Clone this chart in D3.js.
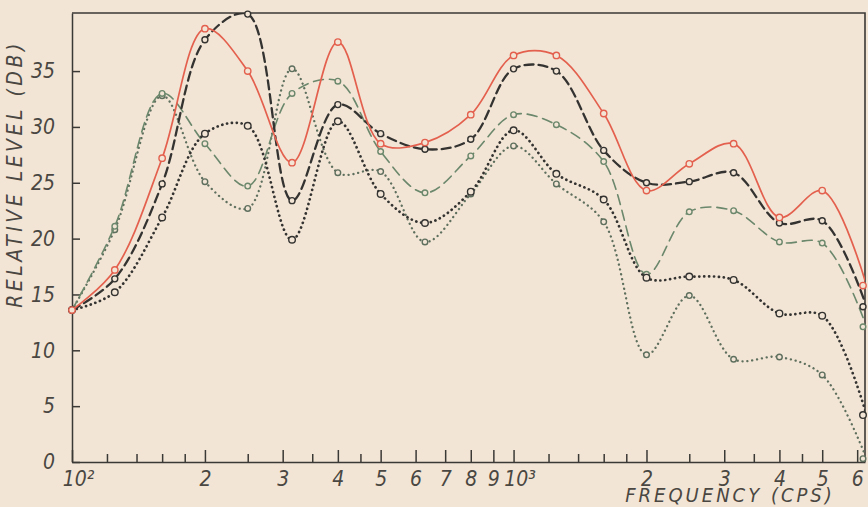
<html>
<head>
	<style>
		body {
			margin: 0;
			background: #f2e5d5;
		}
		svg text {
			font-family: "Liberation Sans Narrow", "DejaVu Sans Condensed", sans-serif;
			font-style: italic;
			fill: #4a4742;
		}
	</style>
	<script src="https://d3js.org/d3.v7.min.js"></script>
</head>
<body>
	<script>
		// 1/3-octave centre frequencies (cps)
		var freqs = [100, 125, 160, 200, 250, 315, 400, 500, 630, 800, 1000, 1250, 1600, 2000, 2500, 3150, 4000, 5000, 6300];

		// Relative level (db) per curve
		var redSolid    = [13.6, 17.2, 27.2, 38.8, 35.0, 26.8, 37.6, 28.5, 28.6, 31.1, 36.4, 36.4, 31.2, 24.3, 26.7, 28.5, 21.9, 24.3, 15.8];
		var blackDashed = [13.6, 16.4, 24.9, 37.8, 40.1, 23.4, 32.0, 29.4, 28.0, 28.9, 35.2, 35.0, 27.9, 25.0, 25.1, 25.9, 21.4, 21.6, 13.9];
		var greenDashed = [13.6, 21.1, 33.0, 28.5, 24.7, 33.0, 34.1, 27.8, 24.1, 27.4, 31.1, 30.2, 26.9, 16.8, 22.4, 22.5, 19.7, 19.6, 12.1];
		var blackDotted = [13.6, 15.2, 21.9, 29.4, 30.1, 19.9, 30.5, 24.0, 21.4, 24.2, 29.7, 25.8, 23.5, 16.5, 16.6, 16.3, 13.3, 13.1, 4.2];
		var greenDotted = [13.6, 20.8, 32.8, 25.1, 22.7, 35.2, 25.9, 26.0, 19.7, 24.0, 28.3, 24.9, 21.5, 9.6, 14.9, 9.2, 9.4, 7.8, 0.3];

		// Axis ticks
		var majorTicks  = [100, 200, 300, 400, 500, 600, 700, 800, 900, 1000, 2000, 3000, 4000, 5000, 6000];
		var majorLabels = ["10²", "2", "3", "4", "5", "6", "7", "8", "9", "10³", "2", "3", "4", "5", "6"];
		var minorTicks  = [120, 140, 160, 180, 250, 350, 450, 1200, 1400, 1600, 1800, 2500, 3500, 4500];
		var yTicks      = [0, 5, 10, 15, 20, 25, 30, 35];

		var width  = 868;
		var height = 507;
		var plotLeft = 72, plotRight = 865, plotTop = 13, plotBottom = 462;
		var paper = "#f2e5d5";

		var curves = [
			{ values: greenDotted, color: "#5f6f5e", width: 2.3, dash: "0.1,4.8", r: 2.8 },
			{ values: greenDashed, color: "#6b876c", width: 1.6, dash: "10,6",    r: 2.8 },
			{ values: blackDotted, color: "#343331", width: 2.7, dash: "0.1,4.8", r: 3.3 },
			{ values: blackDashed, color: "#343331", width: 2.3, dash: "9,5",     r: 3.0 },
			{ values: redSolid,    color: "#e4604e", width: 1.7, dash: null,      r: 3.2 }
		];

		var x = d3.scaleLog().domain([100, 6250]).range([plotLeft, plotRight]);
		var y = d3.scaleLinear().domain([0, 40.2]).range([plotBottom, plotTop]);

		var svg = d3.select("body").append("svg")
			.attr("width", width)
			.attr("height", height);

		svg.append("clipPath").attr("id", "plot")
			.append("rect")
			.attr("x", plotLeft).attr("y", plotTop)
			.attr("width", plotRight - plotLeft).attr("height", plotBottom - plotTop);

		// Axes with inward ticks
		var xMinor = svg.append("g")
			.attr("transform", "translate(0," + plotBottom + ")")
			.call(d3.axisBottom(x).tickValues(minorTicks).tickSize(-8).tickSizeOuter(0).tickFormat(""));
		xMinor.select(".domain").remove();

		var xMajor = svg.append("g")
			.attr("transform", "translate(0," + plotBottom + ")")
			.call(d3.axisBottom(x).tickValues(majorTicks).tickSize(-12).tickSizeOuter(0).tickPadding(9)
				.tickFormat(function(d, i) { return majorLabels[i]; }));
		xMajor.selectAll("text")
			.attr("dx", function(d) { return (d === 100 || d === 1000) ? 6 : 0; });

		var yAxis = svg.append("g")
			.attr("transform", "translate(" + plotLeft + ",0)")
			.call(d3.axisLeft(y).tickValues(yTicks).tickSize(-8).tickSizeOuter(0).tickPadding(17));

		[xMinor, xMajor, yAxis].forEach(function(g) {
			g.attr("font-size", 21).attr("color", "#3b3935");
			g.selectAll("line, path").attr("stroke-width", 1.5);
		});

		// Top and right frame
		svg.append("path")
			.attr("d", "M" + plotLeft + "," + plotTop + "H" + plotRight + "V" + plotBottom)
			.attr("fill", "none")
			.attr("stroke", "#3b3935")
			.attr("stroke-width", 1.6);

		// Curves
		var line = d3.line()
			.x(function(d, i) { return x(freqs[i]); })
			.y(function(d) { return y(d); })
			.curve(d3.curveCatmullRom.alpha(0.5));

		curves.forEach(function(c) {
			svg.append("path")
				.datum(c.values)
				.attr("clip-path", "url(#plot)")
				.attr("fill", "none")
				.attr("stroke", c.color)
				.attr("stroke-width", c.width)
				.attr("stroke-linecap", c.dash ? "round" : "butt")
				.attr("stroke-dasharray", c.dash)
				.attr("d", line);

			svg.append("g").selectAll("circle")
				.data(c.values)
				.enter().append("circle")
				.attr("cx", function(d, i) { return Math.min(x(freqs[i]), plotRight - 2); })
				.attr("cy", function(d) { return y(d); })
				.attr("r", c.r)
				.attr("fill", paper)
				.attr("stroke", c.color)
				.attr("stroke-width", 1.4);
		});

		// Axis titles
		svg.append("text")
			.attr("transform", "translate(22,174) rotate(-90)")
			.attr("text-anchor", "middle")
			.attr("font-size", 21)
			.attr("letter-spacing", 3.5)
			.text("RELATIVE LEVEL (DB)");

		svg.append("text")
			.attr("x", 730)
			.attr("y", 502)
			.attr("text-anchor", "middle")
			.attr("font-size", 20)
			.attr("letter-spacing", 3)
			.text("FREQUENCY (CPS)");
	</script>
</body>
</html>
